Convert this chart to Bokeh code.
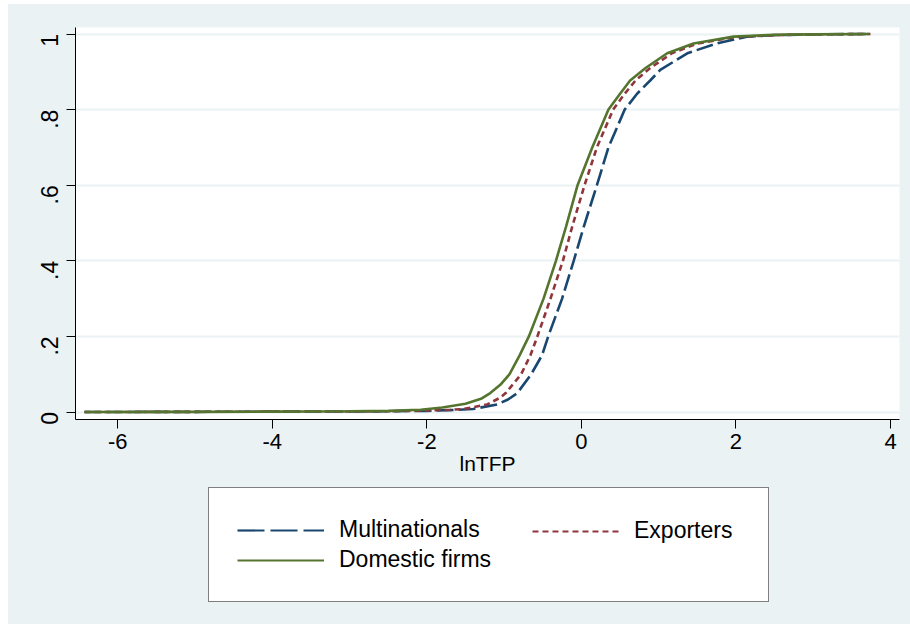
import numpy as np
from bokeh.plotting import figure
from bokeh.layouts import column, row
from bokeh.models import (Legend, LegendItem, FixedTicker, Range1d, CustomJSTickFormatter,
                          Spacer)
from bokeh.embed import file_html
from bokeh.resources import INLINE

# ---- data ----
x_multi = [-6.43, -5.0, -4.0, -3.0, -2.5, -2.0, -1.7, -1.40, -1.09, -0.95, -0.83, -0.65, -0.51,
           -0.43, -0.25, -0.10, 0.03, 0.20, 0.35, 0.56, 0.72, 0.89, 1.02, 1.37, 1.75, 2.14,
           2.5, 3.0, 3.72]
cdf_multi = [0.0, 0.0005, 0.001, 0.0015, 0.002, 0.003, 0.005, 0.008, 0.02, 0.033, 0.05, 0.1, 0.15,
             0.2, 0.3, 0.4, 0.49, 0.6, 0.70, 0.8, 0.842, 0.877, 0.905, 0.949, 0.975, 0.993,
             0.997, 0.999, 1.0]

x_exp = [-6.43, -5.0, -4.0, -3.0, -2.5, -2.0, -1.7, -1.52, -1.22, -1.05, -0.98, -0.78, -0.66,
         -0.57, -0.40, -0.24, -0.12, 0.04, 0.20, 0.41, 0.56, 0.70, 0.89, 1.17, 1.5, 2.0,
         2.5, 3.0, 3.74]
cdf_exp = [0.0, 0.0005, 0.001, 0.0015, 0.002, 0.004, 0.006, 0.008, 0.02, 0.038, 0.05, 0.1, 0.15,
           0.2, 0.3, 0.4, 0.49, 0.6, 0.70, 0.8, 0.842, 0.877, 0.91, 0.949, 0.975, 0.992,
           0.997, 0.999, 1.0]

x_dom = [-6.43, -5.0, -4.0, -3.0, -2.5, -2.08, -1.8, -1.5, -1.3, -1.18, -1.05, -0.93, -0.80,
         -0.68, -0.49, -0.33, -0.20, -0.05, 0.14, 0.35, 0.50, 0.63, 0.83, 1.11, 1.45, 1.97,
         2.5, 3.0, 3.72]
cdf_dom = [0.0, 0.0005, 0.001, 0.002, 0.003, 0.006, 0.012, 0.022, 0.035, 0.05, 0.072, 0.1, 0.15,
           0.2, 0.3, 0.4, 0.49, 0.6, 0.70, 0.8, 0.842, 0.877, 0.91, 0.949, 0.975, 0.993,
           0.998, 0.999, 1.0]

y_ticks = [0, 0.2, 0.4, 0.6, 0.8, 1]
x_ticks = [-6, -4, -2, 0, 2, 4]
labels = ["Multinationals", "Exporters", "Domestic firms"]
x_title = "lnTFP"

BG = "#eaf2f3"
FONT = "Liberation Sans"
C_MULTI, C_EXP, C_DOM = "#1a476f", "#90353b", "#55752f"

# ---- main plot ----
p = figure(width=902, height=480, output_backend="svg", toolbar_location=None,
           x_range=Range1d(-6.547, 4.116), y_range=Range1d(-0.0198, 1.0172),
           min_border_left=67, min_border_right=11, min_border_top=23, min_border_bottom=65)
p.background_fill_color = "white"
p.border_fill_color = BG
p.outline_line_color = None

p.xgrid.visible = False
p.ygrid.ticker = FixedTicker(ticks=y_ticks)
p.ygrid.grid_line_color = BG
p.ygrid.grid_line_width = 2

p.line(x_multi, cdf_multi, line_color=C_MULTI, line_width=2.6, line_dash="17 5")
p.line(x_exp, cdf_exp, line_color=C_EXP, line_width=2.6, line_dash="6 4")
p.line(x_dom, cdf_dom, line_color=C_DOM, line_width=2.6)

for ax in (p.xaxis[0], p.yaxis[0]):
    ax.axis_line_color = "black"
    ax.major_tick_line_color = "black"
    ax.major_tick_in = 0
    ax.major_tick_out = 9
    ax.minor_tick_line_color = None
    ax.major_label_text_font = FONT
    ax.major_label_text_color = "black"

p.xaxis.ticker = FixedTicker(ticks=x_ticks)
p.xaxis.formatter = CustomJSTickFormatter(code="return String(tick);")
p.xaxis.major_label_text_font_size = "22px"
p.xaxis.major_label_standoff = 5
p.xaxis.axis_label = x_title
p.xaxis.axis_label_text_font = FONT
p.xaxis.axis_label_text_font_size = "21px"
p.xaxis.axis_label_text_font_style = "normal"
p.xaxis.axis_label_text_color = "black"
p.xaxis.axis_label_standoff = 0

p.yaxis.ticker = FixedTicker(ticks=y_ticks)
p.yaxis.formatter = CustomJSTickFormatter(code="""
    if (tick == 0) return "0";
    if (tick == 1) return "1";
    return tick.toFixed(1).replace(/^0/, "");
""")
p.yaxis.major_label_text_font_size = "23px"
p.yaxis.major_label_orientation = np.pi / 2
p.yaxis.major_label_standoff = 17

# ---- legend panel (second figure directly below; its frame aligns with p's frame) ----
p2 = figure(width=902, height=140, output_backend="svg", toolbar_location=None,
            x_range=Range1d(100, 101), y_range=Range1d(100, 101), min_border=0)
p2.axis.visible = False
p2.grid.visible = False
p2.outline_line_color = None
p2.background_fill_color = BG
p2.border_fill_color = BG

# same series drawn out of view, only so the legend can show their line styles
g_multi = p2.line(x_multi, cdf_multi, line_color=C_MULTI, line_width=2.2, line_dash="27 6")
g_exp = p2.line(x_exp, cdf_exp, line_color=C_EXP, line_width=2.2, line_dash="6 4")
g_dom = p2.line(x_dom, cdf_dom, line_color=C_DOM, line_width=2.2)

common = dict(margin=0, glyph_width=87, glyph_height=26, label_height=26, label_standoff=15,
              label_text_font=FONT, label_text_font_size="23px", label_text_color="black")
leg1 = Legend(items=[LegendItem(label=labels[0], renderers=[g_multi]),
                     LegendItem(label=labels[2], renderers=[g_dom])],
              location=(133, 22), orientation="vertical",
              padding=28, spacing=3, label_width=401,
              border_line_color="black", border_line_width=1,
              background_fill_color="white", background_fill_alpha=1.0, **common)
leg2 = Legend(items=[LegendItem(label=labels[1], renderers=[g_exp])],
              location=(457, 80), orientation="vertical",
              padding=0, spacing=0,
              border_line_color=None, background_fill_alpha=0.0, **common)
p2.add_layout(leg1, "center")
p2.add_layout(leg2, "center")

inner = column(p, p2, styles={"background-color": BG})
layout = column(Spacer(width=910, height=4),
                row(Spacer(width=8, height=620), inner))

open("out.html", "w").write(file_html(layout, INLINE))
